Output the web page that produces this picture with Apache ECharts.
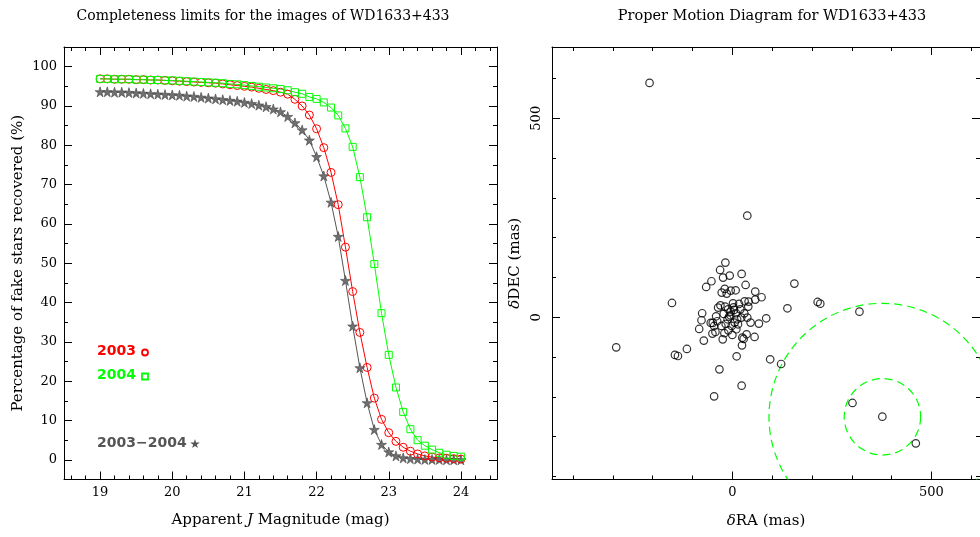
<!DOCTYPE html>
<html>
<head>
<meta charset="utf-8">
<script src="https://cdn.jsdelivr.net/npm/echarts@6/dist/echarts.min.js"></script>
<style>html,body{margin:0;padding:0;background:#fff}#c{width:980px;height:537px}</style>
</head>
<body>
<div id="c"></div>
<script>
// ---------- Left panel: completeness ----------
const magnitudes = [19.0,19.1,19.2,19.3,19.4,19.5,19.6,19.7,19.8,19.9,
  20.0,20.1,20.2,20.3,20.4,20.5,20.6,20.7,20.8,20.9,
  21.0,21.1,21.2,21.3,21.4,21.5,21.6,21.7,21.8,21.9,
  22.0,22.1,22.2,22.3,22.4,22.5,22.6,22.7,22.8,22.9,
  23.0,23.1,23.2,23.3,23.4,23.5,23.6,23.7,23.8,23.9,24.0];
const rec2003 = [96.9,96.9,96.8,96.8,96.8,96.7,96.7,96.6,96.6,96.5,
  96.4,96.3,96.2,96.1,96.0,95.9,95.8,95.6,95.4,95.2,
  95.0,94.8,94.5,94.2,93.9,93.5,93.0,91.7,90.0,87.7,
  84.2,79.4,73.1,64.9,54.1,42.8,32.4,23.5,15.7,10.3,
  6.9,4.7,3.2,2.2,1.5,1.0,0.7,0.5,0.4,0.3,0.2];
const rec2004 = [96.9,96.9,96.8,96.8,96.8,96.7,96.7,96.6,96.6,96.5,
  96.5,96.4,96.3,96.2,96.1,96.0,95.9,95.8,95.6,95.5,
  95.3,95.1,94.9,94.7,94.5,94.3,94.0,93.5,93.1,92.3,
  91.8,90.9,89.6,87.6,84.3,79.6,71.9,61.7,49.8,37.3,
  26.7,18.4,12.2,7.8,5.0,3.6,2.6,1.8,1.3,1.0,0.8];
const rec0304 = [93.6,93.6,93.5,93.5,93.4,93.3,93.2,93.1,93.0,92.9,
  92.8,92.7,92.5,92.4,92.2,92.0,91.8,91.6,91.4,91.2,
  90.9,90.6,90.2,89.8,89.2,88.5,87.3,85.7,83.9,81.3,
  77.1,72.2,65.5,56.8,45.6,34.0,23.4,14.5,7.7,3.9,
  2.0,1.0,0.5,0.3,0.2,0.1,0.1,0.1,0.0,0.0,0.0];
const magMajorTicks = [19,20,21,22,23,24];
const magMinorTicks = [18.6,18.8,19.2,19.4,19.6,19.8,20.2,20.4,20.6,20.8,21.2,21.4,21.6,21.8,22.2,22.4,22.6,22.8,23.2,23.4,23.6,23.8,24.2,24.4];
const pctMajorTicks = [0,10,20,30,40,50,60,70,80,90,100];
const pctMinorTicks = [5,15,25,35,45,55,65,75,85,95];

// ---------- Right panel: proper motion ----------
const dRA  = [-291.7,-151.7,-144.2,-136.7,-114.2,-83.3,-77.5,-75.8,-71.7,-65.8,
  -52.5,-54.2,-49.2,-45.8,-50.0,-42.5,-40.8,-35.8,-30.8,-32.5,
  -26.7,-24.2,-23.3,-19.2,-17.5,-18.3,-27.5,-21.7,-16.7,-14.2,
  -10.8,-10.0,-8.3,-6.7,-4.2,-4.2,-1.7,0.0,1.7,4.2,
  5.8,8.3,9.2,10.8,14.2,16.7,22.5,23.3,24.2,25.0,
  28.3,30.8,33.3,35.8,37.5,40.0,40.8,45.8,55.8,57.5,
  57.5,66.7,73.3,85.0,23.3,-45.8,95.0,122.5,138.3,155.8,
  214.2,220.8,319.2,301.7,376.7,460.8,-208.0,37.5,
  -5.0,12.0,-12.0,3.0,-30.0,20.0,-20.0,10.0,30.0,-38.0];
const dDEC = [-75.4,36.0,-94.6,-97.2,-79.6,-29.3,-7.5,10.1,-58.6,76.2,
  90.5,-14.2,-14.2,-21.8,-41.0,-36.9,2.5,24.3,118.9,-130.7,
  62.0,-55.3,99.7,71.2,137.4,26.8,-21.8,8.4,-16.8,59.5,
  20.1,-32.7,1.7,104.7,67.0,14.2,-21.8,-44.4,35.2,18.4,
  -13.4,67.8,10.1,-98.0,-17.6,33.5,-0.8,108.9,-70.4,-51.1,
  -54.4,40.2,81.2,-42.7,-0.8,26.8,39.4,-13.4,-49.4,64.5,
  44.4,-15.9,50.3,-2.5,-171.7,-198.5,-105.5,-117.3,22.6,84.6,
  38.5,34.3,14.2,-215.2,-249.6,-316.6,588.7,255.3,
  5.0,-5.0,-5.0,25.0,30.0,20.0,-40.0,-30.0,10.0,-10.0];
const circleCenterRA = [377, 377];
const circleCenterDEC = [-250, -250];
const circleRadius = [285, 96];
const pmMajorTicks = [0,500];
const pmMinorTicks = [-400,-300,-200,-100,100,200,300,400,600];

// ---------- build option ----------
const SERIF = '"DejaVu Serif", serif';
const L = {left:64, top:47, width:433, height:432.5};
const R = {left:552, top:47, width:430, height:432.5};

function xAx(grid, pos, min, max, ticks, len, opts) {
  return Object.assign({
    type:'value', gridIndex:grid, position:pos, min, max,
    axisLine:{show: len === 8, onZero:false, lineStyle:{color:'#000', width:1}},
    axisTick:{show:true, inside:true, length:len, customValues:ticks, lineStyle:{color:'#000', width:1}},
    axisLabel:{show:false},
    splitLine:{show:false}
  }, opts || {});
}

const tickLabel = {show:true, fontFamily:SERIF, fontSize:13, color:'#000'};
const nameStyle = {fontFamily:SERIF, fontSize:15, color:'#000',
  rich:{i:{fontFamily:SERIF, fontSize:15, fontStyle:'italic', color:'#000'}}};

const xAxes = [
  xAx(0,'bottom',18.5,24.5,magMajorTicks,8,{
    axisLabel:Object.assign({customValues:magMajorTicks, margin:7}, tickLabel),
    name:'Apparent {i|J} Magnitude (mag)', nameLocation:'middle', nameGap:33, nameTextStyle:nameStyle}),
  xAx(0,'top',18.5,24.5,magMajorTicks,8),
  xAx(1,'bottom',18.5,24.5,magMinorTicks,4),
  xAx(1,'top',18.5,24.5,magMinorTicks,4),
  xAx(2,'bottom',-453,622,pmMajorTicks,8,{
    axisLabel:Object.assign({customValues:pmMajorTicks, margin:7}, tickLabel),
    name:'{i|δ}RA (mas)', nameLocation:'middle', nameGap:34, nameTextStyle:nameStyle}),
  xAx(2,'top',-453,622,pmMajorTicks,8),
  xAx(3,'bottom',-453,622,pmMinorTicks,4),
  xAx(3,'top',-453,622,pmMinorTicks,4)
];
const yAxes = [
  xAx(0,'left',-5,105,pctMajorTicks,8,{
    axisLabel:Object.assign({customValues:pctMajorTicks, margin:7}, tickLabel),
    name:'Percentage of fake stars recovered (%)', nameLocation:'middle', nameGap:38, nameTextStyle:nameStyle}),
  xAx(0,'right',-5,105,pctMajorTicks,8),
  xAx(1,'left',-5,105,pctMinorTicks,4),
  xAx(1,'right',-5,105,pctMinorTicks,4),
  xAx(2,'left',-407.5,679,pmMajorTicks,8,{
    axisLabel:Object.assign({customValues:pmMajorTicks, margin:9, rotate:90}, tickLabel),
    name:'{i|δ}DEC (mas)', nameLocation:'middle', nameGap:29, nameTextStyle:nameStyle}),
  xAx(2,'right',-407.5,679,pmMajorTicks,8),
  xAx(3,'left',-407.5,679,pmMinorTicks,4),
  xAx(3,'right',-407.5,679,pmMinorTicks,4)
];

const starPath = 'path://M50,0 L61,35 L98,35 L68,57 L79,91 L50,70 L21,91 L32,57 L2,35 L39,35 Z';
const pairs = arr => magnitudes.map((m,i)=>[m, arr[i]]);

const option = {
  animation:false,
  backgroundColor:'#fff',
  title:[
    {text:'Completeness limits for the images of WD1633+433', left:258, top:4, textAlign:'center',
     textStyle:{fontFamily:SERIF, fontSize:14, fontWeight:'normal', color:'#000'}},
    {text:'Proper Motion Diagram for WD1633+433', left:767, top:4, textAlign:'center',
     textStyle:{fontFamily:SERIF, fontSize:14.5, fontWeight:'normal', color:'#000'}}
  ],
  grid:[
    Object.assign({}, L), Object.assign({}, L),
    Object.assign({}, R), Object.assign({}, R)
  ],
  xAxis:xAxes,
  yAxis:yAxes,
  series:[
    {type:'line', name:'2003-2004', xAxisIndex:0, yAxisIndex:0, data:pairs(rec0304),
     symbol:starPath, symbolSize:10, showAllSymbol:true,
     lineStyle:{color:'#555', width:1}, itemStyle:{color:'#707070', borderColor:'#444', borderWidth:0.6}},
    {type:'line', name:'2003', xAxisIndex:0, yAxisIndex:0, data:pairs(rec2003),
     symbol:'circle', symbolSize:8, showAllSymbol:true,
     lineStyle:{color:'#ff0000', width:1}, itemStyle:{color:'rgba(0,0,0,0)', borderColor:'#ff0000', borderWidth:1}},
    {type:'line', name:'2004', xAxisIndex:0, yAxisIndex:0, data:pairs(rec2004),
     symbol:'rect', symbolSize:7, showAllSymbol:true,
     lineStyle:{color:'#00ff00', width:1}, itemStyle:{color:'rgba(0,0,0,0)', borderColor:'#00ff00', borderWidth:1}},
    {type:'scatter', xAxisIndex:4, yAxisIndex:4, data:dRA.map((x,i)=>[x, dDEC[i]]),
     symbol:'circle', symbolSize:7.5,
     itemStyle:{color:'rgba(0,0,0,0)', borderColor:'#000', borderWidth:1.2}},
    {type:'custom', xAxisIndex:4, yAxisIndex:4, clip:true,
     data:circleRadius.map((r,i)=>[circleCenterRA[i], circleCenterDEC[i], r]),
     renderItem:function(params, api){
       const c = api.coord([api.value(0), api.value(1)]);
       const r = api.size([api.value(2), 0])[0];
       return {type:'circle', shape:{cx:c[0], cy:c[1], r:r},
         style:{fill:'none', stroke:'#00ff00', lineWidth:1.2, lineDash:[8,5]}};
     }}
  ],
  graphic:[
    {type:'text', left:97, top:344, style:{text:'2003', font:'bold 14px "DejaVu Sans"', fill:'#ff0000'}},
    {type:'circle', shape:{cx:145, cy:352.5, r:3}, style:{fill:'none', stroke:'#ff0000', lineWidth:1.8}},
    {type:'text', left:97, top:368, style:{text:'2004', font:'bold 14px "DejaVu Sans"', fill:'#00ff00'}},
    {type:'rect', shape:{x:142, y:373.5, width:6, height:6}, style:{fill:'none', stroke:'#00ff00', lineWidth:1.8}},
    {type:'text', left:97, top:436, style:{text:'2003\u22122004', font:'bold 14px "DejaVu Sans"', fill:'#555'}},
    {type:'polygon', shape:{points:[[195,439],[196.1,442.5],[199.8,442.5],[196.8,444.7],[197.9,448.1],[195,446],[192.1,448.1],[193.2,444.7],[190.2,442.5],[193.9,442.5]]},
     style:{fill:'#555'}}
  ]
};

const chart = echarts.init(document.getElementById('c'), null, {renderer:'canvas'});
chart.setOption(option);
</script>
</body>
</html>
